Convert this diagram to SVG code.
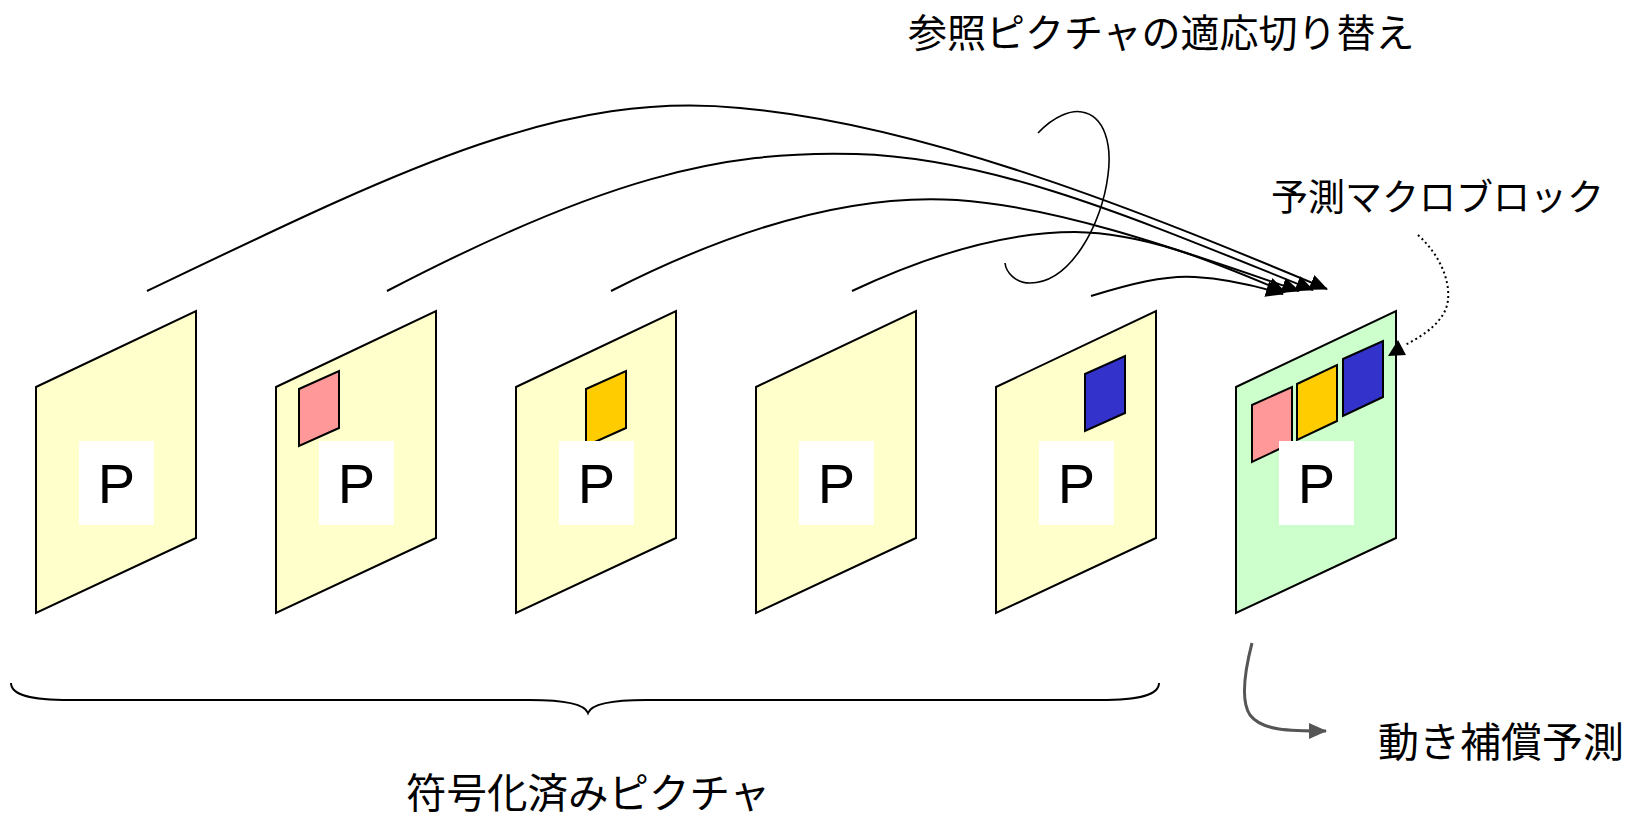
<svg xmlns="http://www.w3.org/2000/svg" width="1629" height="820" viewBox="0 0 1629 820">
<style>
.panel{fill:#FFFFCC;stroke:#000;stroke-width:2;stroke-linejoin:miter}
.cur{fill:#CCFFCC}
.lbl{fill:#fff}
.p{font-family:"Liberation Sans",Arial,sans-serif;font-size:56px;fill:#000;text-anchor:middle}
.jp{font-family:"Noto Sans CJK JP","Noto Sans CJK SC",sans-serif;fill:#000}
.mb{stroke:#000;stroke-width:2}
.ref{fill:none;stroke:#000;stroke-width:2;marker-end:url(#ah)}
</style>
<defs>
<marker id="ah" markerUnits="userSpaceOnUse" markerWidth="22" markerHeight="18" refX="17" refY="8" orient="auto" viewBox="0 0 22 18">
<path d="M0,0 L18,8 L0,16 Z" fill="#000"/>
</marker>
<marker id="ahg" markerUnits="userSpaceOnUse" markerWidth="22" markerHeight="18" refX="17" refY="8" orient="auto" viewBox="0 0 22 18">
<path d="M0,0 L18,8 L0,16 Z" fill="#555"/>
</marker>
</defs>
<rect width="1629" height="820" fill="#fff"/>

<g id="picture1">
<polygon class="panel" points="36,387 196,311 196,538 36,613"/>
<rect class="lbl" x="79" y="441" width="75" height="84"/>
<text class="p" x="116.5" y="503">P</text>
</g>
<g id="picture2">
<polygon class="panel" points="276,387 436,311 436,538 276,613"/>
<polygon class="mb" fill="#FF9999" points="299,389 339,371 339,428 299,446"/>
<rect class="lbl" x="319" y="441" width="75" height="84"/>
<text class="p" x="356.5" y="503">P</text>
</g>
<g id="picture3">
<polygon class="panel" points="516,387 676,311 676,538 516,613"/>
<polygon class="mb" fill="#FFCC00" points="586,389 626,371 626,428 586,446"/>
<rect class="lbl" x="559" y="441" width="75" height="84"/>
<text class="p" x="596.5" y="503">P</text>
</g>
<g id="picture4">
<polygon class="panel" points="756,387 916,311 916,538 756,613"/>
<rect class="lbl" x="799" y="441" width="75" height="84"/>
<text class="p" x="836.5" y="503">P</text>
</g>
<g id="picture5">
<polygon class="panel" points="996,387 1156,311 1156,538 996,613"/>
<polygon class="mb" fill="#3333CC" points="1085,374 1125,356 1125,413 1085,431"/>
<rect class="lbl" x="1039" y="441" width="75" height="84"/>
<text class="p" x="1076.5" y="503">P</text>
</g>
<g id="current-picture">
<polygon class="panel cur" points="1236,387 1396,311 1396,538 1236,613"/>
<polygon class="mb" fill="#FF9999" points="1252,405 1292,387 1292,443 1252,462"/>
<polygon class="mb" fill="#FFCC00" points="1297,384 1337,365 1337,421 1297,440"/>
<polygon class="mb" fill="#3333CC" points="1343,359 1383,341 1383,397 1343,416"/>
<rect class="lbl" x="1279" y="441" width="75" height="84"/>
<text class="p" x="1316.5" y="503">P</text>
</g>

<g id="connectors">
<path class="ref" d="M147,291 C400,170 560,90 740,108 C930,125 1150,215 1327,289"/>
<path class="ref" d="M387,291 C600,180 720,150 856,154 C1000,158 1150,225 1313,290"/>
<path class="ref" d="M611,291 C770,210 880,195 957,200 C1060,207 1180,250 1299,291"/>
<path class="ref" d="M852,291 C950,245 1020,232 1075,232 C1150,233 1220,265 1285,292"/>
<path class="ref" d="M1091,296 C1130,284 1165,275 1195,277 C1230,279 1260,287 1283,294"/>
<path d="M1038,133 C1055,115 1072,110 1082,112 C1105,116 1112,145 1108,175 C1102,225 1070,283 1030,283 C1015,283 1006,272 1005,263" fill="none" stroke="#000" stroke-width="1.6"/>
<path d="M1418,235 C1440,255 1450,280 1448,300 C1446,320 1425,335 1405,345" fill="none" stroke="#000" stroke-width="2" stroke-dasharray="2,3"/>
<polygon points="1398,340 1388,356 1406,355" fill="#000"/>
<path d="M1252,643 C1245,670 1240,700 1250,715 C1262,731 1290,731 1326,731" fill="none" stroke="#555" stroke-width="3" marker-end="url(#ahg)"/>
<path d="M11,683 C11,695 30,700 70,700 L530,700 C570,700 585,705 588,713 C591,705 606,700 646,700 L1100,700 C1140,700 1159,695 1159,683" fill="none" stroke="#000" stroke-width="2"/>
</g>

<g id="labels">
<text class="jp" x="908" y="47" font-size="39">参照ピクチャの適応切り替え</text>
<text class="jp" x="1271" y="211" font-size="37">予測マクロブロック</text>
<text class="jp" x="1378" y="757" font-size="41">動き補償予測</text>
<text class="jp" x="588" y="808" font-size="40.5" text-anchor="middle">符号化済みピクチャ</text>
</g>
</svg>
